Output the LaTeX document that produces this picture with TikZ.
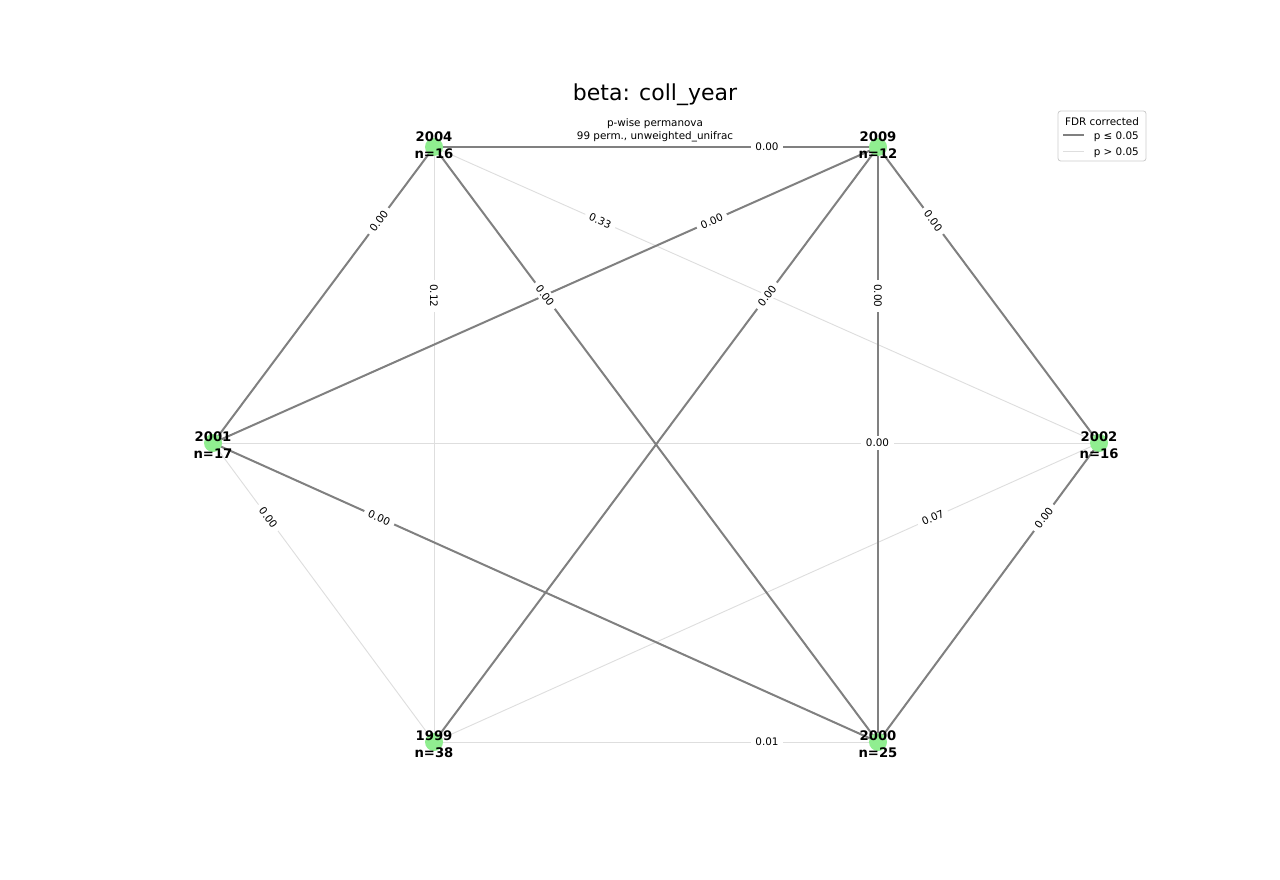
\documentclass[tikz,border=0pt]{standalone}
\usepackage{fontspec}
\setmainfont{DejaVu Sans}
\definecolor{darkedge}{RGB}{128,128,128}
\definecolor{lightedge}{RGB}{222,222,222}
\definecolor{vgreen}{RGB}{144,238,144}
\definecolor{legborder}{RGB}{204,204,204}
\begin{document}
\begin{tikzpicture}[x=0.75pt,y=-0.75pt,
  darkline/.style={draw=darkedge,line width=1.5pt},
  lightline/.style={draw=lightedge,line width=0.7pt},
  elab/.style={fill=white,inner xsep=3.5pt,inner ysep=2pt,sloped,font=\fontsize{7.8}{9}\selectfont},
  vert/.style={circle,fill=vgreen,minimum size=13.5pt,inner sep=0pt},
  vlab/.style={align=center,font=\fontsize{9.9}{12.6}\selectfont\bfseries},
  legtext/.style={anchor=west,font=\fontsize{7.8}{9}\selectfont,inner sep=0pt}]
\useasboundingbox (0,0) rectangle (1280,880);
% vertex positions
\coordinate (c2004) at (434,147);
\coordinate (c2009) at (878,147);
\coordinate (c2001) at (213,443);
\coordinate (c2002) at (1099,443);
\coordinate (c1999) at (434,742);
\coordinate (c2000) at (878,742);
% light edges
\draw[lightline] (c2004) -- (c1999);
\draw[lightline] (c2004) -- (c2002);
\draw[lightline] (c2001) -- (c2002);
\draw[lightline] (c2001) -- (c1999);
\draw[lightline] (c2002) -- (c1999);
\draw[lightline] (c1999) -- (c2000);
% dark edges
\draw[darkline] (c2004) -- (c2009);
\draw[darkline] (c2004) -- (c2001);
\draw[darkline] (c2004) -- (c2000);
\draw[darkline] (c2009) -- (c2001);
\draw[darkline] (c2009) -- (c1999);
\draw[darkline] (c2009) -- (c2000);
\draw[darkline] (c2009) -- (c2002);
\draw[darkline] (c2001) -- (c2000);
\draw[darkline] (c2002) -- (c2000);
% edge labels
\path (c2004) -- node[elab,pos=0.75] (l1) {0.00} (c2009);
\path (c2004) -- node[elab,pos=0.25] (l2) {0.00} (c2001);
\path (c2004) -- node[elab,pos=0.25] (l3) {0.12} (c1999);
\path (c2004) -- node[elab,pos=0.25] (l4) {0.33} (c2002);
\path (c2004) -- node[elab,pos=0.25] (l5) {0.00} (c2000);
\path (c2009) -- node[elab,pos=0.25] (l6) {0.00} (c2001);
\path (c2009) -- node[elab,pos=0.25] (l7) {0.00} (c1999);
\path (c2009) -- node[elab,pos=0.25] (l8) {0.00} (c2000);
\path (c2009) -- node[elab,pos=0.25] (l9) {0.00} (c2002);
\path (c2001) -- node[elab,pos=0.75] (l10) {0.00} (c2002);
\path (c2001) -- node[elab,pos=0.25] (l11) {0.00} (c1999);
\path (c2001) -- node[elab,pos=0.25] (l12) {0.00} (c2000);
\path (c2002) -- node[elab,pos=0.25] (l13) {0.07} (c1999);
\path (c2002) -- node[elab,pos=0.25] (l14) {0.00} (c2000);
\path (c1999) -- node[elab,pos=0.75] (l15) {0.01} (c2000);
% vertices
\node[vert] (v2004) at (c2004) {};
\node[vert] (v2009) at (c2009) {};
\node[vert] (v2001) at (c2001) {};
\node[vert] (v2002) at (c2002) {};
\node[vert] (v1999) at (c1999) {};
\node[vert] (v2000) at (c2000) {};
\node[vlab] (t2004) at ([yshift=1.5pt]c2004) {2004\\n=16};
\node[vlab] (t2009) at ([yshift=1.5pt]c2009) {2009\\n=12};
\node[vlab] (t2001) at ([yshift=-1.5pt]c2001) {2001\\n=17};
\node[vlab] (t2002) at ([yshift=-1.5pt]c2002) {2002\\n=16};
\node[vlab] (t1999) at ([yshift=-1.5pt]c1999) {1999\\n=38};
\node[vlab] (t2000) at ([yshift=-1.5pt]c2000) {2000\\n=25};
% title
\node[font=\fontsize{16.5}{19}\selectfont] (title) at (655,95) {beta: coll\_year};
\node[font=\fontsize{7.8}{9}\selectfont,inner sep=0pt] (sub1) at (655,124) {p-wise permanova};
\node[font=\fontsize{7.8}{9}\selectfont,inner sep=0pt] (sub2) at (655,137) {99 perm., unweighted\_unifrac};
% legend
\draw[draw=legborder,fill=white,rounded corners=2pt,line width=0.6pt] (1058,111) rectangle (1146,161);
\node[font=\fontsize{7.8}{9}\selectfont,inner sep=0pt] (legtitle) at (1102,121.5) {FDR corrected};
\coordinate (la1) at (1063,135.5);
\coordinate (lb1) at (1084,135.5);
\coordinate (la2) at (1063,151.5);
\coordinate (lb2) at (1084,151.5);
\draw[darkline] (la1) -- (lb1);
\draw[lightline,line width=1pt] (la2) -- (lb2);
\node[legtext] (leg1) at (1093.5,136.5) {p ≤ 0.05};
\node[legtext] (leg2) at (1093.5,152.5) {p > 0.05};
\end{tikzpicture}
\end{document}
